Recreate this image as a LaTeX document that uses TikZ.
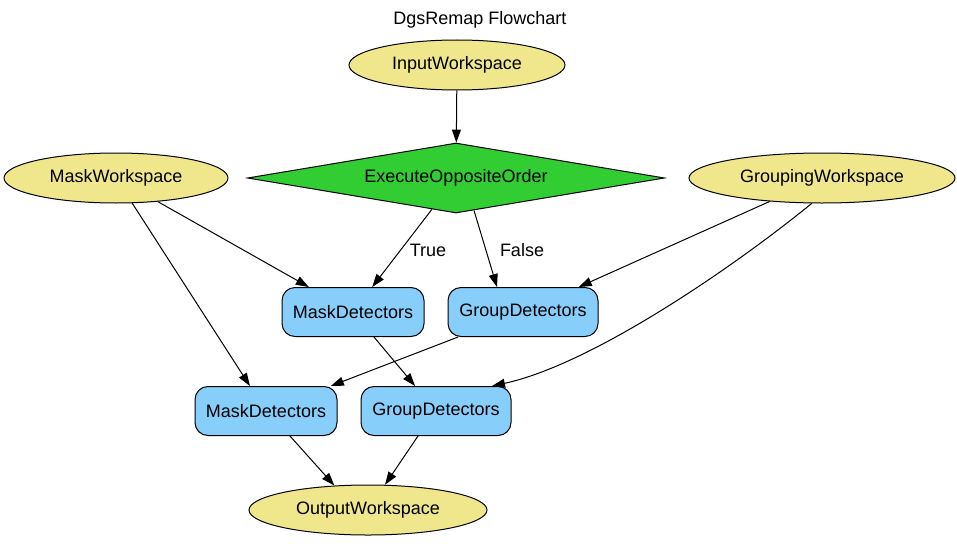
\documentclass[tikz,border=0pt]{standalone}
\usepackage{fontspec}
\setmainfont{Liberation Sans}
\usetikzlibrary{shapes.geometric,arrows.meta}
\definecolor{khaki}{HTML}{F0E68C}
\definecolor{limegr}{HTML}{32CD32}
\definecolor{skyb}{HTML}{87CEFA}
\begin{document}
\begin{tikzpicture}[x=1pt,y=-1pt,
  font=\fontsize{18}{20}\selectfont,
  wsnode/.style={ellipse,draw=black,fill=khaki,line width=1pt,inner sep=0pt,minimum height=50pt},
  algnode/.style={rectangle,rounded corners=13pt,draw=black,fill=skyb,line width=1pt,inner sep=0pt,minimum height=49pt},
  decnode/.style={diamond,aspect=6,draw=black,fill=limegr,line width=1pt,inner sep=0pt,minimum width=417pt,minimum height=70pt},
  edge/.style={draw=black,line width=1pt,-{Triangle[length=13pt,width=9pt]}},
  elabel/.style={fill=none,inner sep=0pt}]
\useasboundingbox (0,0) rectangle (957,543);
\node (title) at (480,20) {DgsRemap Flowchart};
\node[wsnode,minimum width=216pt] (in) at (457,65) {InputWorkspace};
\node[decnode] (dec) at (456,178) {ExecuteOppositeOrder};
\node[wsnode,minimum width=224pt] (mw) at (116,178) {MaskWorkspace};
\node[wsnode,minimum width=266pt] (gw) at (822,178) {GroupingWorkspace};
\node[algnode,minimum width=142pt] (md1) at (353,312) {MaskDetectors};
\node[algnode,minimum width=150pt] (gd1) at (523,312) {GroupDetectors};
\node[algnode,minimum width=142pt] (md2) at (266,411) {MaskDetectors};
\node[algnode,minimum width=150pt] (gd2) at (436,411) {GroupDetectors};
\node[wsnode,minimum width=238pt] (out) at (368,510) {OutputWorkspace};
\node[elabel] (ltrue) at (428,250) {True};
\node[elabel] (lfalse) at (522,250) {False};
\draw[edge] (in) -- (dec);
\draw[edge] (dec) -- (md1);
\draw[edge] (dec.-61) -- ([xshift=-26pt]gd1.north);
\draw[edge] (mw) -- (md1);
\draw[edge] (mw) -- (md2);
\draw[edge] (gw) -- (gd1);
\draw[edge] (gw.-112) .. controls (730,270) and (590,365) .. ([xshift=56pt]gd2.north);
\draw[edge] (md1) -- (gd2);
\draw[edge] (gd1) -- (md2);
\draw[edge] ([xshift=24pt]md2.south) -- (out.144);
\draw[edge] ([xshift=-18pt]gd2.south) -- (out.56);
\end{tikzpicture}
\end{document}
